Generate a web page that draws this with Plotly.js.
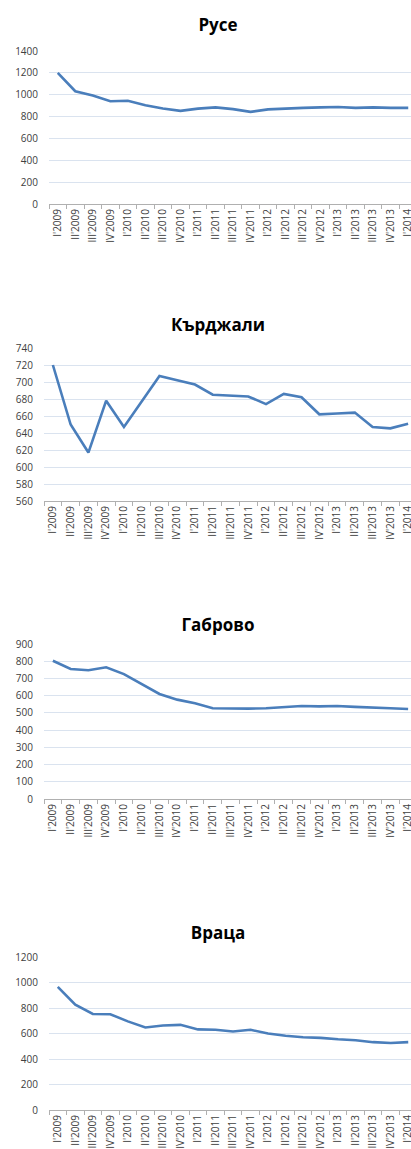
<!DOCTYPE html>
<html>
<head>
<meta charset="utf-8">
<script src="https://cdn.plot.ly/plotly-3.0.1.min.js"></script>
<style>
html, body { margin:0; padding:0; width:411px; height:1149px; overflow:hidden; background:#fff; }
.chart { width:436px; height:300px; }
</style>
</head>
<body>
<div id="c1" class="chart"></div>
<div id="c2" class="chart"></div>
<div id="c3" class="chart"></div>
<div id="c4" class="chart"></div>
<script>
const categories = ["I'2009","II'2009","III'2009","IV'2009","I'2010","II'2010","III'2010","IV'2010","I'2011","II'2011","III'2011","IV'2011","I'2012","II'2012","III'2012","IV'2012","I'2013","II'2013","III'2013","IV'2013","I'2014"];

const ruseValues = [1200,1032,992,940,945,904,873,852,873,884,868,843,866,875,880,884,887,880,884,880,880];
const kardzhaliValues = [720,650,617,678,647,677,707,702,697,685,684,683,674,686,682,662,663,664,647,645.5,651];
const gabrovoValues = [803,755,748,765,725,665,610,577,556,527,525,525,527,533,540,538,540,535,533,527,523];
const vratsaValues = [966,826,753,751,695,647,663,668,632,629,616,629,600,582,571,566,555,547,532,526,532];

const titles = ["Русе","Кърджали","Габрово","Враца"];
const yRanges = [[0,1400],[560,740],[0,900],[0,1200]];
const yDticks = [200,20,100,200];

const specs = [
  {id:"c1", values:ruseValues, m:{t:51,b:95.7,l:49.3,r:19.2}, ty:1-25/300},
  {id:"c2", values:kardzhaliValues, m:{t:47.7,b:99,l:43.7,r:19.2}, ty:1-25/300},
  {id:"c3", values:gabrovoValues, m:{t:44.3,b:101,l:43.7,r:19.2}, ty:1-25/300},
  {id:"c4", values:vratsaValues, m:{t:57.3,b:89.7,l:49.3,r:19.2}, ty:1-33.3/300}
];

const FONT = "Open Sans, Noto Sans, sans-serif";

specs.forEach((s, i) => {
  const trace = {
    x: categories,
    y: s.values,
    type: "scatter",
    mode: "lines",
    line: {color:"#4a7ebb", width:2.6},
    hoverinfo: "skip"
  };
  const layout = {
    width: 436,
    height: 300,
    margin: {t:s.m.t, b:s.m.b, l:s.m.l, r:s.m.r, pad:0},
    paper_bgcolor: "#ffffff",
    plot_bgcolor: "#ffffff",
    showlegend: false,
    title: {
      text: titles[i],
      font: {family: FONT, size: 17, color: "#000000", weight: "bold"},
      x: 0.5, xref: "container", xanchor: "center",
      y: s.ty, yref: "container", yanchor: "middle"
    },
    xaxis: {
      type: "category",
      range: [-0.5, 20.5],
      tickson: "boundaries",
      ticks: "outside",
      ticklen: 4,
      tickcolor: "#b0b0b0",
      tickwidth: 1,
      showline: true,
      linecolor: "#b0b0b0",
      linewidth: 1,
      showgrid: false,
      zeroline: false,
      tickangle: -90,
      tickfont: {family: FONT, size: 10, color: "#404040"},
      automargin: false,
      fixedrange: true
    },
    yaxis: {
      range: yRanges[i],
      dtick: yDticks[i],
      tick0: 0,
      showgrid: true,
      gridcolor: "#dae3ef",
      gridwidth: 1,
      zeroline: false,
      showline: false,
      ticks: "outside",
      ticklen: 8,
      tickcolor: "rgba(0,0,0,0)",
      tickfont: {family: FONT, size: 10, color: "#404040"},
      automargin: false,
      fixedrange: true
    }
  };
  Plotly.newPlot(s.id, [trace], layout, {staticPlot: true, displayModeBar: false});
});
</script>
</body>
</html>
